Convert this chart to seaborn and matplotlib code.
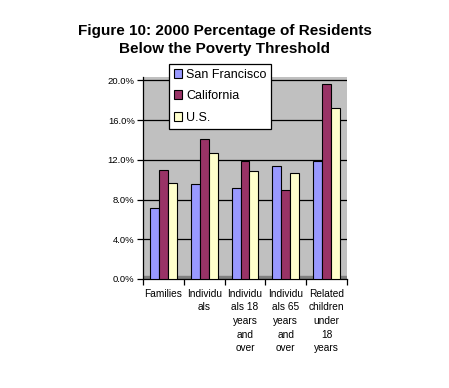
import pandas as pd
import matplotlib
matplotlib.use("Agg")
import matplotlib.pyplot as plt
import seaborn as sns
from matplotlib.ticker import FixedLocator, FuncFormatter

# Values (percent)
categories = [
    "Families",
    "Individu\nals",
    "Individu\nals 18\nyears\nand\nover",
    "Individu\nals 65\nyears\nand\nover",
    "Related\nchildren\nunder\n18\nyears",
]
regions = ["San Francisco", "California", "U.S."]
san_francisco = [7.2, 9.6, 9.2, 11.4, 11.9]
california = [11.0, 14.1, 11.9, 9.0, 19.6]
us = [9.7, 12.7, 10.9, 10.7, 17.2]
y_ticks = [0, 4, 8, 12, 16, 20]

colors = ["#9999FF", "#993366", "#FFFFCC"]

df = pd.DataFrame({
    "category": categories * 3,
    "region": [regions[0]] * 5 + [regions[1]] * 5 + [regions[2]] * 5,
    "value": san_francisco + california + us,
})

sns.set_style("white")
plt.rcParams["font.family"] = ["Liberation Sans", "DejaVu Sans"]
plt.rcParams["text.color"] = "black"
plt.rcParams["xtick.color"] = "black"
plt.rcParams["ytick.color"] = "black"

fig = plt.figure(figsize=(4.49, 3.88), dpi=100)
ax = fig.add_axes([143 / 449, 1 - 279 / 388, 204 / 449, 202 / 388])
ax.set_facecolor("#C0C0C0")

sns.barplot(
    data=df, x="category", y="value", hue="region",
    palette=colors, width=0.66, edgecolor="black", linewidth=0.8,
    saturation=1, ax=ax, zorder=3,
)

# floor strip and gridlines
ax.axhspan(0, 0.3, color="#808080", zorder=1)
for t in y_ticks[1:]:
    ax.axhline(t, color="black", linewidth=0.9, zorder=2)

ax.set_ylim(0, 20.35)
ax.set_xlim(-0.5, len(categories) - 0.5)
ax.set_yticks(y_ticks)
ax.yaxis.set_major_formatter(FuncFormatter(lambda v, p: f"{v:.1f}%"))
ax.set_xticks(range(len(categories)))
ax.set_xticklabels(categories, fontsize=7.3, linespacing=1.45, va="top")
ax.xaxis.set_minor_locator(FixedLocator([i - 0.5 for i in range(len(categories) + 1)]))
ax.tick_params(axis="x", which="major", length=0, pad=7)
ax.tick_params(axis="x", which="minor", length=4, width=0.9, color="black", bottom=True)
ax.tick_params(axis="y", length=4, width=0.9, color="black", left=True, labelsize=6.8, pad=2)
ax.set_xlabel("")
ax.set_ylabel("")

for side in ["top", "right"]:
    ax.spines[side].set_visible(False)
for side in ["left", "bottom"]:
    ax.spines[side].set_color("black")
    ax.spines[side].set_linewidth(0.9)

leg = ax.legend(
    loc="upper left", bbox_to_anchor=(0.125, 1.065), frameon=True,
    fontsize=9, fancybox=False, framealpha=1, edgecolor="black",
    handlelength=0.7, handleheight=0.7, handletextpad=0.3,
    borderpad=0.4, labelspacing=0.75, borderaxespad=0,
)
leg.get_frame().set_linewidth(0.9)
leg.set_zorder(5)

fig.text(0.5, 1 - 40 / 388,
         "Figure 10: 2000 Percentage of Residents\nBelow the Poverty Threshold",
         ha="center", va="center", fontsize=11, fontweight="bold", linespacing=1.35)

fig.savefig("out.png", dpi=100, facecolor="white")
